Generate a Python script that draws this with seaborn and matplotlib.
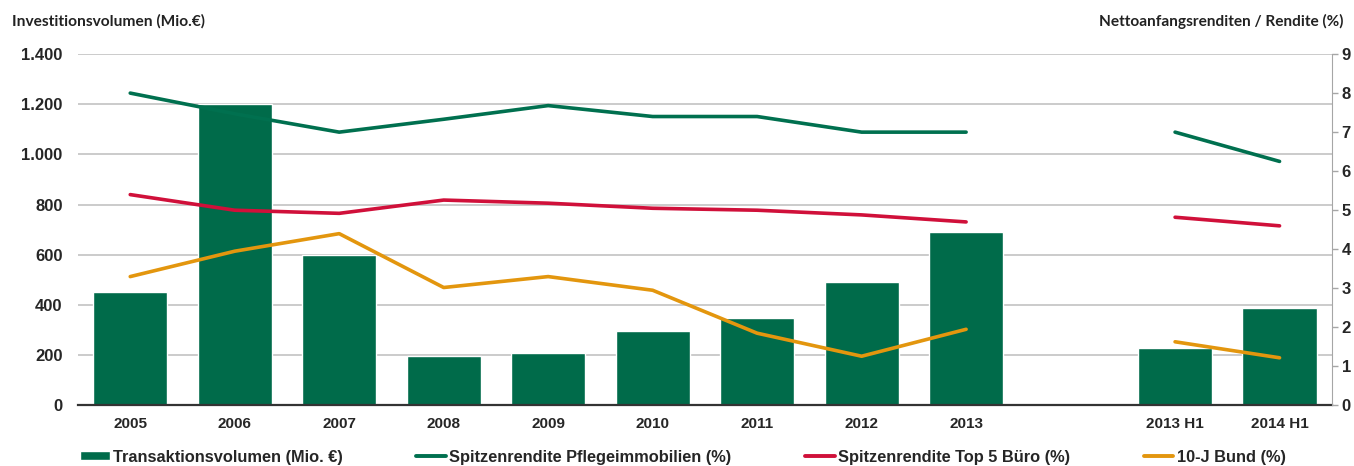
import pandas as pd
import matplotlib.pyplot as plt
import seaborn as sns
from matplotlib.ticker import FuncFormatter, MultipleLocator
from matplotlib.patches import Patch
from matplotlib.lines import Line2D

years = ["2005", "2006", "2007", "2008", "2009", "2010", "2011", "2012", "2013"]
halfyears = ["2013 H1", "2014 H1"]

volumen_years = [450, 1200, 600, 197, 210, 295, 350, 490, 690]
volumen_half = [230, 390]

pflege_years = [8.0, 7.47, 7.0, 7.33, 7.68, 7.4, 7.4, 7.0, 7.0]
pflege_half = [7.0, 6.25]
buero_years = [5.4, 5.0, 4.92, 5.26, 5.18, 5.05, 5.0, 4.88, 4.7]
buero_half = [4.82, 4.6]
bund_years = [3.3, 3.95, 4.4, 3.02, 3.3, 2.95, 1.85, 1.26, 1.95]
bund_half = [1.63, 1.22]

c_bar = "#006B4A"
c_pflege = "#00704F"
c_buero = "#D0103A"
c_bund = "#E3960E"

# positions: one empty slot between the yearly and half-year values
pos_years = list(range(len(years)))
pos_half = [len(years) + 1 + i for i in range(len(halfyears))]
positions = pos_years + pos_half
labels = years + halfyears

bars = pd.DataFrame({"pos": positions, "volumen": volumen_years + volumen_half})

rows = []
for name, y_vals, h_vals in [
    ("Spitzenrendite Pflegeimmobilien (%)", pflege_years, pflege_half),
    ("Spitzenrendite Top 5 Büro (%)", buero_years, buero_half),
    ("10-J Bund (%)", bund_years, bund_half),
]:
    for p, v in zip(pos_years, y_vals):
        rows.append({"pos": p, "wert": v, "serie": name, "seg": "jahr"})
    for p, v in zip(pos_half, h_vals):
        rows.append({"pos": p, "wert": v, "serie": name, "seg": "halb"})
lines = pd.DataFrame(rows)

sns.set_style("white")
plt.rcParams["font.family"] = ["Liberation Sans", "DejaVu Sans"]

fig = plt.figure(figsize=(13.54, 4.66), dpi=100)
ax = fig.add_axes([0.0576, 0.130, 0.926, 0.754])

sns.barplot(data=bars, x="pos", y="volumen", native_scale=True, width=0.71,
            color=c_bar, saturation=1, ax=ax, zorder=2)
ax.set_xlim(-0.5, len(positions) + 0.5)
ax.set_ylim(0, 1400)
ax.yaxis.set_major_locator(MultipleLocator(200))
ax.yaxis.set_major_formatter(FuncFormatter(lambda v, _: f"{int(v):,}".replace(",", ".")))
ax.grid(axis="y", color="#BDBDBD", linewidth=1.1, zorder=0)
ax.set_axisbelow(True)
ax.set_xticks(positions)
ax.set_xticklabels(labels)
ax.tick_params(axis="x", length=0, pad=8, labelsize=11)
ax.tick_params(axis="y", length=0, pad=11, labelsize=12)
for t in ax.get_xticklabels() + ax.get_yticklabels():
    t.set_fontweight("bold")
ax.set_xlabel("")
ax.set_ylabel("")
for s in ["left", "top", "right"]:
    ax.spines[s].set_visible(False)
ax.spines["bottom"].set_color("#333333")
ax.spines["bottom"].set_linewidth(1.6)

ax2 = ax.twinx()
sns.lineplot(data=lines, x="pos", y="wert", hue="serie", units="seg", estimator=None,
             palette=[c_pflege, c_buero, c_bund], linewidth=2.6, legend=False, ax=ax2)
ax2.set_ylim(0, 9)
ax2.yaxis.set_major_locator(MultipleLocator(1))
ax2.tick_params(axis="y", length=4, width=1, color="#A6A6A6", pad=3, labelsize=12)
for t in ax2.get_yticklabels():
    t.set_fontweight("bold")
ax2.set_xlabel("")
ax2.set_ylabel("")
for s in ["left", "top", "bottom"]:
    ax2.spines[s].set_visible(False)
ax2.spines["right"].set_color("#A6A6A6")
ax2.set_xlim(-0.5, len(positions) + 0.5)

fig.text(0.009, 0.955, "Investitionsvolumen (Mio.€)", fontsize=11.2, fontweight="bold",
         family=["Lato", "DejaVu Sans"], va="center", ha="left", color="#222222")
fig.text(0.9925, 0.955, "Nettoanfangsrenditen / Rendite (%)", fontsize=11.1, fontweight="bold",
         family=["Lato", "DejaVu Sans"], va="center", ha="right", color="#222222")

handles = [
    Patch(facecolor=c_bar, label="Transaktionsvolumen (Mio. €)"),
    Line2D([], [], color=c_pflege, linewidth=2.8, label="Spitzenrendite Pflegeimmobilien (%)"),
    Line2D([], [], color=c_buero, linewidth=2.8, label="Spitzenrendite Top 5 Büro (%)"),
    Line2D([], [], color=c_bund, linewidth=2.8, label="10-J Bund (%)"),
]
leg = fig.legend(handles=handles, ncol=4, loc="center left", bbox_to_anchor=(80 / 1354, 0.019),
                 frameon=False, handlelength=1.8, handletextpad=0.2, columnspacing=4.5,
                 handleheight=0.5, borderpad=0, borderaxespad=0,
                 prop={"weight": "bold", "size": 11.8})

fig.savefig("out.png", dpi=100)
